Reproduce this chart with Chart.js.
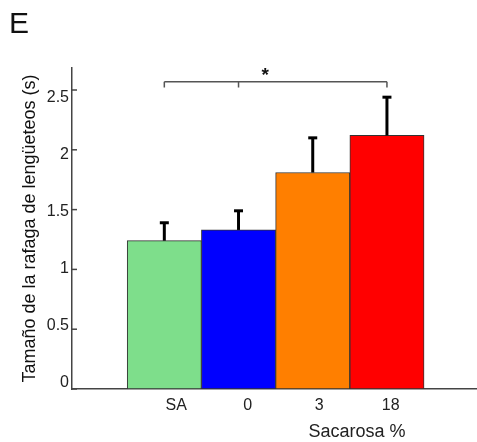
<!DOCTYPE html>
<html>
<head>
<meta charset="utf-8">
<script src="https://cdn.jsdelivr.net/npm/chart.js@4.4.1/dist/chart.umd.min.js"></script>
<style>
  body { margin: 0; background: #fff; }
  #wrap { width: 477px; height: 442px; position: relative; }
</style>
</head>
<body>
<div id="wrap"><canvas id="chart"></canvas></div>
<script>
const groups = ['SA', '0', '3', '18'];
const means = [1.24, 1.33, 1.81, 2.12];
const errors = [0.15, 0.16, 0.29, 0.32];
const colors = ['#7ede8b', '#0000ff', '#ff7f00', '#ff0000'];
const yTicks = [0, 0.5, 1, 1.5, 2, 2.5];
// significance bracket between these groups
const bracketGroups = ['SA', '0', '18'];
const bracketY = 2.57;
const bracketDrop = 0.05;
const starX = 2.36;

const FONT = '"Liberation Sans", Arial, sans-serif';
const pos = groups.map((g, i) => i + 1);

const overlay = {
  id: 'overlay',
  afterDatasetsDraw(chart) {
    const ctx = chart.ctx;
    const x = chart.scales.x, y = chart.scales.y;
    const meta = chart.getDatasetMeta(0);
    ctx.save();

    // error bars, upward only
    ctx.strokeStyle = '#000';
    meta.data.forEach((bar, i) => {
      const top = y.getPixelForValue(means[i] + errors[i]);
      ctx.lineWidth = 3;
      ctx.beginPath();
      ctx.moveTo(bar.x, bar.y);
      ctx.lineTo(bar.x, top);
      ctx.stroke();
      ctx.beginPath();
      ctx.moveTo(bar.x - 4.5, top);
      ctx.lineTo(bar.x + 4.5, top);
      ctx.stroke();
    });

    // inward ticks on the y axis
    ctx.strokeStyle = '#444';
    ctx.lineWidth = 1.5;
    const left = chart.chartArea.left;
    yTicks.forEach(v => {
      const py = y.getPixelForValue(v);
      ctx.beginPath();
      ctx.moveTo(left, py);
      ctx.lineTo(left + 5, py);
      ctx.stroke();
    });

    // bracket
    const by = y.getPixelForValue(bracketY);
    const bd = y.getPixelForValue(bracketY - bracketDrop);
    const bx = bracketGroups.map(g => x.getPixelForValue(groups.indexOf(g) + 1));
    ctx.strokeStyle = '#555';
    ctx.lineWidth = 1.5;
    ctx.beginPath();
    ctx.moveTo(bx[0], by);
    ctx.lineTo(bx[bx.length - 1], by);
    bx.forEach(px => { ctx.moveTo(px, by); ctx.lineTo(px, bd); });
    ctx.stroke();

    ctx.fillStyle = '#111';
    ctx.font = 'bold 19px ' + FONT;
    ctx.textAlign = 'center';
    ctx.textBaseline = 'alphabetic';
    ctx.fillText('*', x.getPixelForValue(starX), by - 0.5);

    // panel letter and x title
    ctx.font = '30px ' + FONT;
    ctx.textAlign = 'left';
    ctx.fillText('E', 9, 33);
    ctx.font = '18px ' + FONT;
    ctx.textAlign = 'center';
    ctx.fillStyle = '#222';
    ctx.fillText('Sacarosa %', 357, 437);
    ctx.restore();
  }
};

new Chart(document.getElementById('chart'), {
  type: 'bar',
  data: {
    datasets: [{
      data: pos.map((p, i) => ({ x: p, y: means[i] })),
      backgroundColor: colors,
      borderColor: '#333',
      borderWidth: 1,
      borderSkipped: false,
      barPercentage: 1,
      categoryPercentage: 1,
      xAxisID: 'x',
      yAxisID: 'y'
    }]
  },
  options: {
    responsive: true,
    maintainAspectRatio: false,
    animation: false,
    layout: { padding: { top: 68, right: 1, left: 0, bottom: 0 } },
    plugins: { legend: { display: false }, tooltip: { enabled: false } },
    scales: {
      x: {
        type: 'linear', position: 'bottom', weight: 0, offset: false,
        min: -0.244, max: 5.2,
        grid: { display: false, offset: false },
        ticks: { display: false },
        border: { display: true, color: '#444', width: 1.5 },
        afterFit: s => { s.height = 2; }
      },
      x2: {
        type: 'linear', position: 'bottom', weight: 1, offset: false,
        min: -0.457, max: 5.193,
        grid: { display: false, drawTicks: false, offset: false },
        border: { display: false },
        afterBuildTicks: s => { s.ticks = pos.map(v => ({ value: v })); },
        ticks: {
          padding: 5, color: '#222', autoSkip: false, maxRotation: 0,
          font: { size: 16, family: FONT },
          callback: v => groups[v - 1]
        },
        afterFit: s => { s.height = 51; }
      },
      y: {
        type: 'linear', position: 'left', weight: 0,
        min: 0, max: 2.684,
        grid: { display: false },
        ticks: { display: false },
        border: { display: true, color: '#444', width: 1.5 },
        afterFit: s => { s.width = 3; }
      },
      y2: {
        type: 'linear', position: 'left', weight: 1,
        min: -0.057, max: 2.759,
        grid: { display: false, drawTicks: false },
        border: { display: false },
        afterBuildTicks: s => { s.ticks = yTicks.map(v => ({ value: v })); },
        ticks: {
          padding: 0, color: '#222',
          font: { size: 16, family: FONT },
          callback: v => String(v)
        },
        title: {
          display: true,
          text: 'Tamaño de la rafaga de lengüeteos (s)',
          color: '#111',
          font: { size: 18, family: FONT },
          padding: { top: 19, bottom: 0 }
        },
        afterFit: s => { s.width = 69; }
      }
    }
  },
  plugins: [overlay]
});
</script>
</body>
</html>
